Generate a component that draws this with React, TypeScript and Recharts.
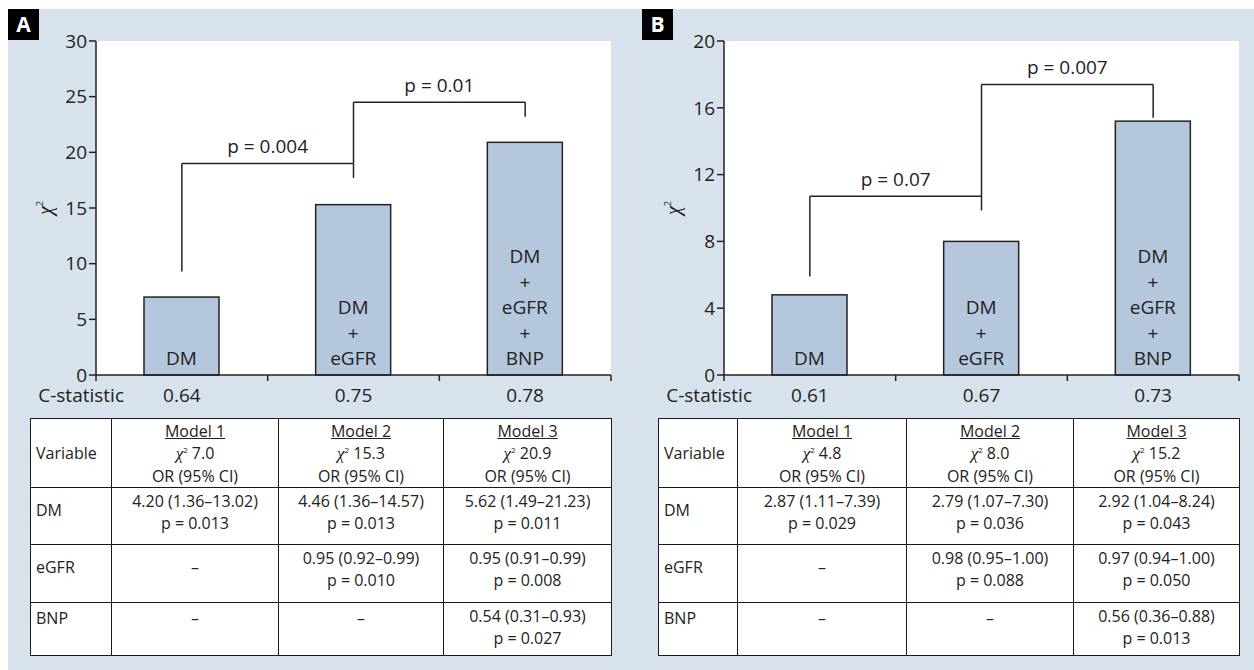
import React from 'react';
import { BarChart, Bar, XAxis, YAxis, CartesianGrid, ReferenceLine } from 'recharts';

// ---- data ----
const models = ['Model 1', 'Model 2', 'Model 3'];
const barText = [['DM'], ['DM', '+', 'eGFR'], ['DM', '+', 'eGFR', '+', 'BNP']];
const rowVars = ['DM', 'eGFR', 'BNP'];

const chiA = [7.0, 15.3, 20.9];
const cStatA = ['0.64', '0.75', '0.78'];
const yTicksA = [0, 5, 10, 15, 20, 25, 30];
const bracketsA = [
  { from: 'Model 1', to: 'Model 2', level: 19.0, fromBase: 9.3, toBase: 17.7, p: 'p = 0.004' },
  { from: 'Model 2', to: 'Model 3', level: 24.5, fromBase: 19.0, toBase: 23.2, p: 'p = 0.01' },
];
const tableA: (string[] | null)[][] = [
  [['4.20 (1.36–13.02)', 'p = 0.013'], ['4.46 (1.36–14.57)', 'p = 0.013'], ['5.62 (1.49–21.23)', 'p = 0.011']],
  [null, ['0.95 (0.92–0.99)', 'p = 0.010'], ['0.95 (0.91–0.99)', 'p = 0.008']],
  [null, null, ['0.54 (0.31–0.93)', 'p = 0.027']],
];

const chiB = [4.8, 8.0, 15.2];
const cStatB = ['0.61', '0.67', '0.73'];
const yTicksB = [0, 4, 8, 12, 16, 20];
const bracketsB = [
  { from: 'Model 1', to: 'Model 2', level: 10.7, fromBase: 5.9, toBase: 9.85, p: 'p = 0.07' },
  { from: 'Model 2', to: 'Model 3', level: 17.4, fromBase: 10.7, toBase: 15.4, p: 'p = 0.007' },
];
const tableB: (string[] | null)[][] = [
  [['2.87 (1.11–7.39)', 'p = 0.029'], ['2.79 (1.07–7.30)', 'p = 0.036'], ['2.92 (1.04–8.24)', 'p = 0.043']],
  [null, ['0.98 (0.95–1.00)', 'p = 0.088'], ['0.97 (0.94–1.00)', 'p = 0.050']],
  [null, null, ['0.56 (0.36–0.88)', 'p = 0.013']],
];

// ---- style ----
const FONT = '"Open Sans", "Noto Sans", sans-serif';
const INK = '#222';
const PANEL_BG = '#d8e2ec';
const BAR_FILL = '#b5c7dc';
const CHART_W = 613;
const CHART_H = 410;
const MARGIN = { top: 32, right: 10, left: 28, bottom: 14 };
const Y_W = 60;
const PLOT_W = CHART_W - MARGIN.left - MARGIN.right - Y_W;

function BarWithText(props: any) {
  const { x, y, width, height, payload } = props;
  const lines: string[] = payload.lines;
  const bottom = y + height;
  const cx = x + width / 2;
  return (
    <g>
      <rect x={x} y={y} width={width} height={height} fill={BAR_FILL} stroke={INK} strokeWidth={1.5} />
      {lines.map((t, i) => (
        <text key={i} x={cx} y={bottom - 10 - (lines.length - 1 - i) * 25.5} textAnchor="middle"
          fontSize={19} fontFamily={FONT} fill={INK}>{t}</text>
      ))}
    </g>
  );
}

function makeCTick(cstats: string[]) {
  const band = PLOT_W / models.length;
  return (props: any) => {
    const { x, y, index } = props;
    const half = band / 2;
    return (
      <g>
        {index === 0 && <line x1={x - half} x2={x - half} y1={y - 8} y2={y - 2} stroke={INK} strokeWidth={1.5} />}
        <line x1={x + half} x2={x + half} y1={y - 8} y2={y - 2} stroke={INK} strokeWidth={1.5} />
        {index === 0 && (
          <text x={x - half + 28} y={y + 19} textAnchor="end" fontSize={19} fontFamily={FONT} fill={INK}>C-statistic</text>
        )}
        <text x={x} y={y + 19} textAnchor="middle" fontSize={19} fontFamily={FONT} fill={INK}>{cstats[index]}</text>
      </g>
    );
  };
}

function ChiLabel(props: any) {
  const vb = props.viewBox || {};
  const x = vb.x + 16;
  const y = vb.y + vb.height / 2;
  return (
    <text transform={`translate(${x},${y}) rotate(-90)`} textAnchor="middle" fill={INK}>
      <tspan fontFamily='"Liberation Serif", serif' fontStyle="italic" fontSize={20}>χ</tspan>
      <tspan fontSize={9} dy={-9} fontFamily={FONT}>2</tspan>
    </text>
  );
}

function ChiChart({ chi, cstats, yTicks, brackets }: any) {
  const data = models.map((m, i) => ({ model: m, chi: chi[i], lines: barText[i] }));
  const max = yTicks[yTicks.length - 1];
  const lineStyle = { stroke: INK, strokeWidth: 1.5 };
  return (
    <BarChart width={CHART_W} height={CHART_H} data={data} margin={MARGIN}>
      <CartesianGrid fill="#ffffff" horizontal={false} vertical={false} stroke="none" />
      <XAxis dataKey="model" tickLine={false} axisLine={lineStyle} interval={0} height={30}
        tickSize={6} tickMargin={2} tick={makeCTick(cstats)} />
      <YAxis width={Y_W} domain={[0, max]} ticks={yTicks} interval={0} axisLine={lineStyle}
        tickLine={lineStyle} tickSize={7} tickMargin={2}
        tick={{ fontSize: 19, fontFamily: FONT, fill: INK }}
        label={<ChiLabel />} />
      <Bar dataKey="chi" barSize={75} isAnimationActive={false} shape={<BarWithText />} />
      {brackets.map((b: any, i: number) => (
        <ReferenceLine key={`h${i}`} segment={[{ x: b.from, y: b.level }, { x: b.to, y: b.level }]}
          {...lineStyle}
          label={{ value: b.p, position: 'top', offset: 10, fill: INK, fontSize: 19, fontFamily: FONT }} />
      ))}
      {brackets.map((b: any, i: number) => (
        <ReferenceLine key={`l${i}`} segment={[{ x: b.from, y: b.fromBase }, { x: b.from, y: b.level }]} {...lineStyle} />
      ))}
      {brackets.map((b: any, i: number) => (
        <ReferenceLine key={`r${i}`} segment={[{ x: b.to, y: b.toBase }, { x: b.to, y: b.level }]} {...lineStyle} />
      ))}
    </BarChart>
  );
}

const cellBorder = '1.5px solid #1a1a1a';

function ModelTable({ chi, rows, cols }: any) {
  const rowHeights = [69, 57, 58, 53];
  const td: React.CSSProperties = { border: cellBorder, padding: 0, verticalAlign: 'top', textAlign: 'center', lineHeight: '22px' };
  return (
    <table style={{ borderCollapse: 'collapse', tableLayout: 'fixed', width: cols.reduce((a: number, b: number) => a + b, 0),
      fontFamily: FONT, fontSize: 16, color: INK, background: '#fff' }}>
      <colgroup>{cols.map((w: number, i: number) => <col key={i} style={{ width: w }} />)}</colgroup>
      <tbody>
        <tr style={{ height: rowHeights[0] }}>
          <td style={{ ...td, verticalAlign: 'middle', textAlign: 'left', paddingLeft: 5 }}>Variable</td>
          {models.map((m, i) => (
            <td key={m} style={{ ...td, verticalAlign: 'middle' }}>
              <div style={{ textDecoration: 'underline' }}>{m}</div>
              <div>
                <span style={{ fontFamily: '"Liberation Serif", serif', fontStyle: 'italic', fontSize: 17 }}>χ</span>
                <sup style={{ fontSize: 8, lineHeight: 0 }}>2</sup> {chi[i].toFixed(1)}
              </div>
              <div>OR (95% CI)</div>
            </td>
          ))}
        </tr>
        {rows.map((r: (string[] | null)[], ri: number) => (
          <tr key={ri} style={{ height: rowHeights[ri + 1] }}>
            <td style={{ ...td, textAlign: 'left', paddingLeft: 5, paddingTop: ri === 2 ? 4 : 11 }}>{rowVars[ri]}</td>
            {r.map((c, ci) => (
              <td key={ci} style={{ ...td, paddingTop: 2 }}>
                {c ? c.map((t, k) => <div key={k}>{t}</div>) : <div style={{ paddingTop: ri === 2 ? 2 : 9 }}>–</div>}
              </td>
            ))}
          </tr>
        ))}
      </tbody>
    </table>
  );
}

function PanelTag({ text, left }: { text: string; left: number }) {
  return (
    <div style={{ position: 'absolute', left, top: 0, width: 31, height: 31, background: '#000', color: '#fff',
      fontFamily: FONT, fontWeight: 700, fontSize: 21, lineHeight: '31px', textAlign: 'center' }}>{text}</div>
  );
}

export default function App() {
  return (
    <div style={{ position: 'relative', marginTop: 9, marginLeft: 8, width: 1246, height: 661, background: PANEL_BG }}>
      <style>{'body{margin:0;overflow:hidden}'}</style>
      <div style={{ position: 'absolute', left: 0, top: 0 }}>
        <ChiChart chi={chiA} cstats={cStatA} yTicks={yTicksA} brackets={bracketsA} />
      </div>
      <div style={{ position: 'absolute', left: 628, top: 0 }}>
        <ChiChart chi={chiB} cstats={cStatB} yTicks={yTicksB} brackets={bracketsB} />
      </div>
      <PanelTag text="A" left={0} />
      <PanelTag text="B" left={634} />
      <div style={{ position: 'absolute', left: 22, top: 409 }}>
        <ModelTable chi={chiA} rows={tableA} cols={[81, 167, 165, 168]} />
      </div>
      <div style={{ position: 'absolute', left: 650, top: 409 }}>
        <ModelTable chi={chiB} rows={tableB} cols={[79, 169, 167, 166]} />
      </div>
    </div>
  );
}
